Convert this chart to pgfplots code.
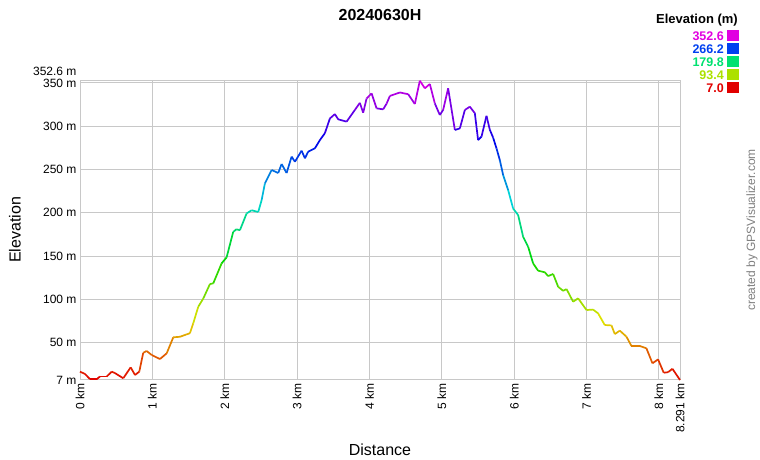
\documentclass[border=0pt]{standalone}
\usepackage{fontspec}
\setmainfont{Liberation Sans}
\usepackage{pgfplots}
\pgfplotsset{compat=1.18}
\definecolor{gridgray}{RGB}{200,200,200}
\definecolor{cM}{RGB}{225,0,225}
\definecolor{cB}{RGB}{0,64,240}
\definecolor{cG}{RGB}{0,225,112}
\definecolor{cY}{RGB}{172,225,0}
\definecolor{cR}{RGB}{225,0,0}
\begin{document}
\begin{tikzpicture}[x=1pt,y=1pt]
\path[use as bounding box] (0,0) rectangle (760,460);
\begin{axis}[
  at={(80pt,80pt)}, anchor=south west,
  scale only axis, width=600pt, height=299.3pt,
  xmin=0, xmax=8.291, ymin=7, ymax=352.6,
  xtick={0,1,2,3,4,5,6,7,8,8.291},
  xticklabels={0 km,1 km,2 km,3 km,4 km,5 km,6 km,7 km,8 km,8.291 km},
  ytick={7,50,100,150,200,250,300,350},
  yticklabels={7 m,50 m,100 m,150 m,200 m,250 m,300 m,350 m},
  extra y ticks={352.6},
  extra y tick labels={352.6 m},
  extra y tick style={yticklabel style={yshift=9pt}, grid=major},
  xticklabel style={rotate=90, anchor=east},
  tick label style={font=\fontsize{12}{14}\selectfont},
  /pgf/number format/assume math mode=true,
  major tick length=0pt,
  grid=major,
  major grid style={gridgray, line width=1pt},
  axis line style={gridgray, line width=1pt},
  colormap={gps}{rgb255=(225,0,0) rgb255=(225,225,0) rgb255=(0,215,0) rgb255=(0,215,215) rgb255=(0,0,235) rgb255=(225,0,225)},
  point meta min=7, point meta max=352.6,
  clip=false,
]
\addplot[mesh, point meta=y, line width=1.7pt, line join=round] table {
x y
0.000 16.6
0.069 14
0.138 8
0.231 8
0.276 11
0.369 11
0.438 16.6
0.483 15
0.598 9
0.700 21.6
0.760 12.8
0.819 16.6
0.874 38.5
0.921 40.5
0.990 35.9
1.105 31.2
1.198 37.8
1.289 56.3
1.381 56.9
1.450 59
1.519 61
1.565 72.5
1.634 91.6
1.703 101
1.796 117.9
1.841 118.5
1.957 141.7
2.026 148.6
2.117 178
2.160 181
2.210 180
2.302 199.3
2.371 203
2.463 201
2.510 214.8
2.555 234
2.648 249.5
2.739 246
2.786 256.4
2.855 246
2.924 264.9
2.970 259
3.062 271.8
3.108 263
3.153 270.6
3.246 274.5
3.315 284
3.384 292
3.453 309
3.522 314
3.568 308
3.684 305.3
3.798 318.8
3.867 327
3.913 315.6
3.960 332
4.029 338
4.098 320.7
4.189 319.5
4.236 326
4.282 335
4.420 339
4.535 337
4.627 325.7
4.696 352.6
4.765 343.8
4.834 348.8
4.903 326.4
4.972 313
5.018 318.8
5.087 343.8
5.180 295.7
5.249 297.5
5.318 318.8
5.387 322.6
5.456 315
5.501 284
5.548 288
5.617 312
5.663 296
5.708 287
5.755 274.5
5.801 261
5.847 243.7
5.916 226.4
5.985 205
6.054 197.5
6.123 172.5
6.192 161
6.261 141.7
6.330 133.2
6.423 131.4
6.468 127
6.538 129.4
6.607 114.7
6.676 110
6.723 112
6.814 97.4
6.883 101.3
6.999 87.8
7.090 88.3
7.159 84
7.251 70.5
7.344 70
7.390 60
7.459 64
7.551 57
7.620 46.3
7.735 46.3
7.827 43.6
7.910 26.3
7.988 30.8
8.066 15.4
8.126 16
8.186 20
8.291 7
};
\end{axis}
% titles and labels
\node[font=\fontsize{16}{19}\selectfont\bfseries] at (380,445) {20240630H};
\node[font=\fontsize{16}{19}\selectfont] at (380,10) {Distance};
\node[font=\fontsize{16}{19}\selectfont, rotate=90] at (15,230) {Elevation};
\node[font=\fontsize{12}{14}\selectfont, text=gray, rotate=90] at (752,230) {created by GPSVisualizer.com};
% legend
\node[font=\fontsize{13}{15}\selectfont\bfseries, anchor=east, inner sep=0] at (738,440) {Elevation (m)};
\foreach \v/\c/\yy in {352.6/cM/424, 266.2/cB/411, 179.8/cG/398, 93.4/cY/385, 7.0/cR/372}{
  \node[font=\fontsize{12.5}{15}\selectfont\bfseries, text=\c, anchor=east, inner sep=0] at (724,\yy) {\v};
  \fill[\c] (727,\yy-5.5) rectangle (739,\yy+5.5);
}
\end{tikzpicture}
\end{document}
